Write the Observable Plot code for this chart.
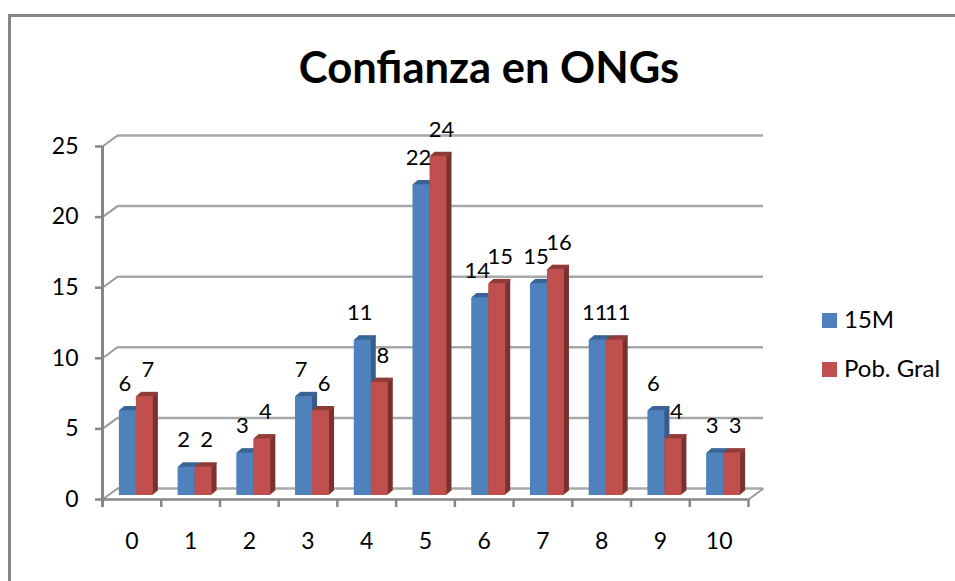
<!DOCTYPE html>
<html><head><meta charset="utf-8">
<script src="https://cdn.jsdelivr.net/npm/d3@7"></script>
<script src="https://cdn.jsdelivr.net/npm/@observablehq/plot@0.6"></script>
<style>
html,body{margin:0;padding:0;background:#fff;overflow:hidden}
#wrap{position:relative;width:955px;height:581px;font-family:Lato,sans-serif;color:#000}
#frame{position:absolute;left:8px;top:14px;right:-5px;bottom:-5px;border-left:3px solid #868686;border-top:3px solid #868686}
#title{position:absolute;left:0;top:38px;width:978px;text-align:center;font-size:43.5px;font-weight:700;line-height:56px}
.leg{position:absolute;left:822px;font-size:24px;line-height:24px;white-space:nowrap}
.leg i{display:inline-block;width:15px;height:15px;margin-right:7px;vertical-align:0px}
svg{position:absolute;left:0;top:0}
</style></head><body>
<div id="wrap">
<div id="frame"></div>
<div id="title">Confianza en ONGs</div>
<div class="leg" style="top:307px"><i style="background:#4f81bd"></i>15M</div>
<div class="leg" style="top:356px"><i style="background:#c0504d"></i>Pob. Gral</div>
</div>
<script>
const categories = [0,1,2,3,4,5,6,7,8,9,10];
const serie15M = [6,2,3,7,11,22,14,15,11,6,3];
const seriePob = [7,2,4,6,8,24,15,16,11,4,3];
const yTicks = [0,5,10,15,20,25];
const boundaries = [-0.5,0.5,1.5,2.5,3.5,4.5,5.5,6.5,7.5,8.5,9.5,10.5];

const W=955,H=581,mL=102,mR=207,mT=146,mB=82;
const pxX=(W-mL-mR)/11, pxY=(H-mT-mB)/25;
const wallDx=15, wallDy=-11;      // depth of the chart box
const barDx=4.5, barDy=-4;        // bars sit inside the box
const depthSteps=[5,4,3,2,1];     // bar extrusion
const halfW=17/pxX;
const rows=(vals,x1,x2)=>categories.map((c,i)=>({c,v:vals[i],x1:c+x1,x2:c+x2,xm:c+(x1+x2)/2}));
const blue=rows(serie15M,-halfW,0), red=rows(seriePob,0,halfW);

function bar3d(data,front,top,side){
  const m=[];
  for(const s of depthSteps){
    const dx=barDx+s, dy=barDy-s*0.85;
    m.push(Plot.rect(data,{x1:"x1",x2:"x2",y1:()=>0,y2:"v",fill:side,dx,dy}));
    m.push(Plot.rect(data,{x1:"x1",x2:"x2",y1:d=>d.v,y2:d=>d.v-1.5/pxY,fill:top,dx,dy}));
  }
  m.push(Plot.rect(data,{x1:"x1",x2:"x2",y1:()=>0,y2:"v",fill:front,dx:barDx,dy:barDy}));
  return m;
}
const labels=(d,nudge)=>Plot.text(d,{x:"xm",y:"v",text:"v",fontSize:22,fill:"#000",dx:barDx+nudge,dy:barDy-27});

const plot=Plot.plot({
  width:W,height:H,marginLeft:mL,marginRight:mR,marginTop:mT,marginBottom:mB,
  style:{background:"transparent",fontFamily:"Lato,sans-serif",color:"#000",overflow:"visible"},
  x:{type:"linear",domain:[-0.5,10.5],axis:null},
  y:{type:"linear",domain:[0,25],axis:null},
  marks:[
    Plot.ruleY(yTicks,{stroke:"#a8a8a8",strokeWidth:2.5,dx:wallDx,dy:wallDy}),
    Plot.link(yTicks,{x1:()=>-0.5,y1:d=>d,x2:()=>-0.5+wallDx/pxX,y2:d=>d-wallDy/pxY,stroke:"#9a9a9a",strokeWidth:2}),
    Plot.link([0],{x1:()=>10.5,y1:()=>0,x2:()=>10.5+wallDx/pxX,y2:()=>-wallDy/pxY,stroke:"#9a9a9a",strokeWidth:2}),
    Plot.ruleX([-0.5],{y1:()=>-8/pxY,y2:()=>25,stroke:"#868686",strokeWidth:3}),
    Plot.ruleY([0],{stroke:"#868686",strokeWidth:2.5}),
    Plot.ruleX(boundaries,{y1:()=>-8/pxY,y2:()=>0,stroke:"#868686",strokeWidth:2.5}),
    Plot.axisY(yTicks,{tickSize:7,tickPadding:17,fontSize:23,stroke:"#868686",strokeWidth:2.5,anchor:"left",label:null,fill:"#000"}),
    Plot.axisX(categories,{tickSize:0,tickPadding:33,fontSize:23,anchor:"bottom",label:null,fill:"#000"}),
    ...bar3d(blue,"#4f81bd","#3c6797","#385d8a"),
    ...bar3d(red,"#c0504d","#963f3c","#7a3230"),
    labels(blue,-3),labels(red,3)
  ]
});
document.getElementById("wrap").appendChild(plot);
</script>
</body></html>
